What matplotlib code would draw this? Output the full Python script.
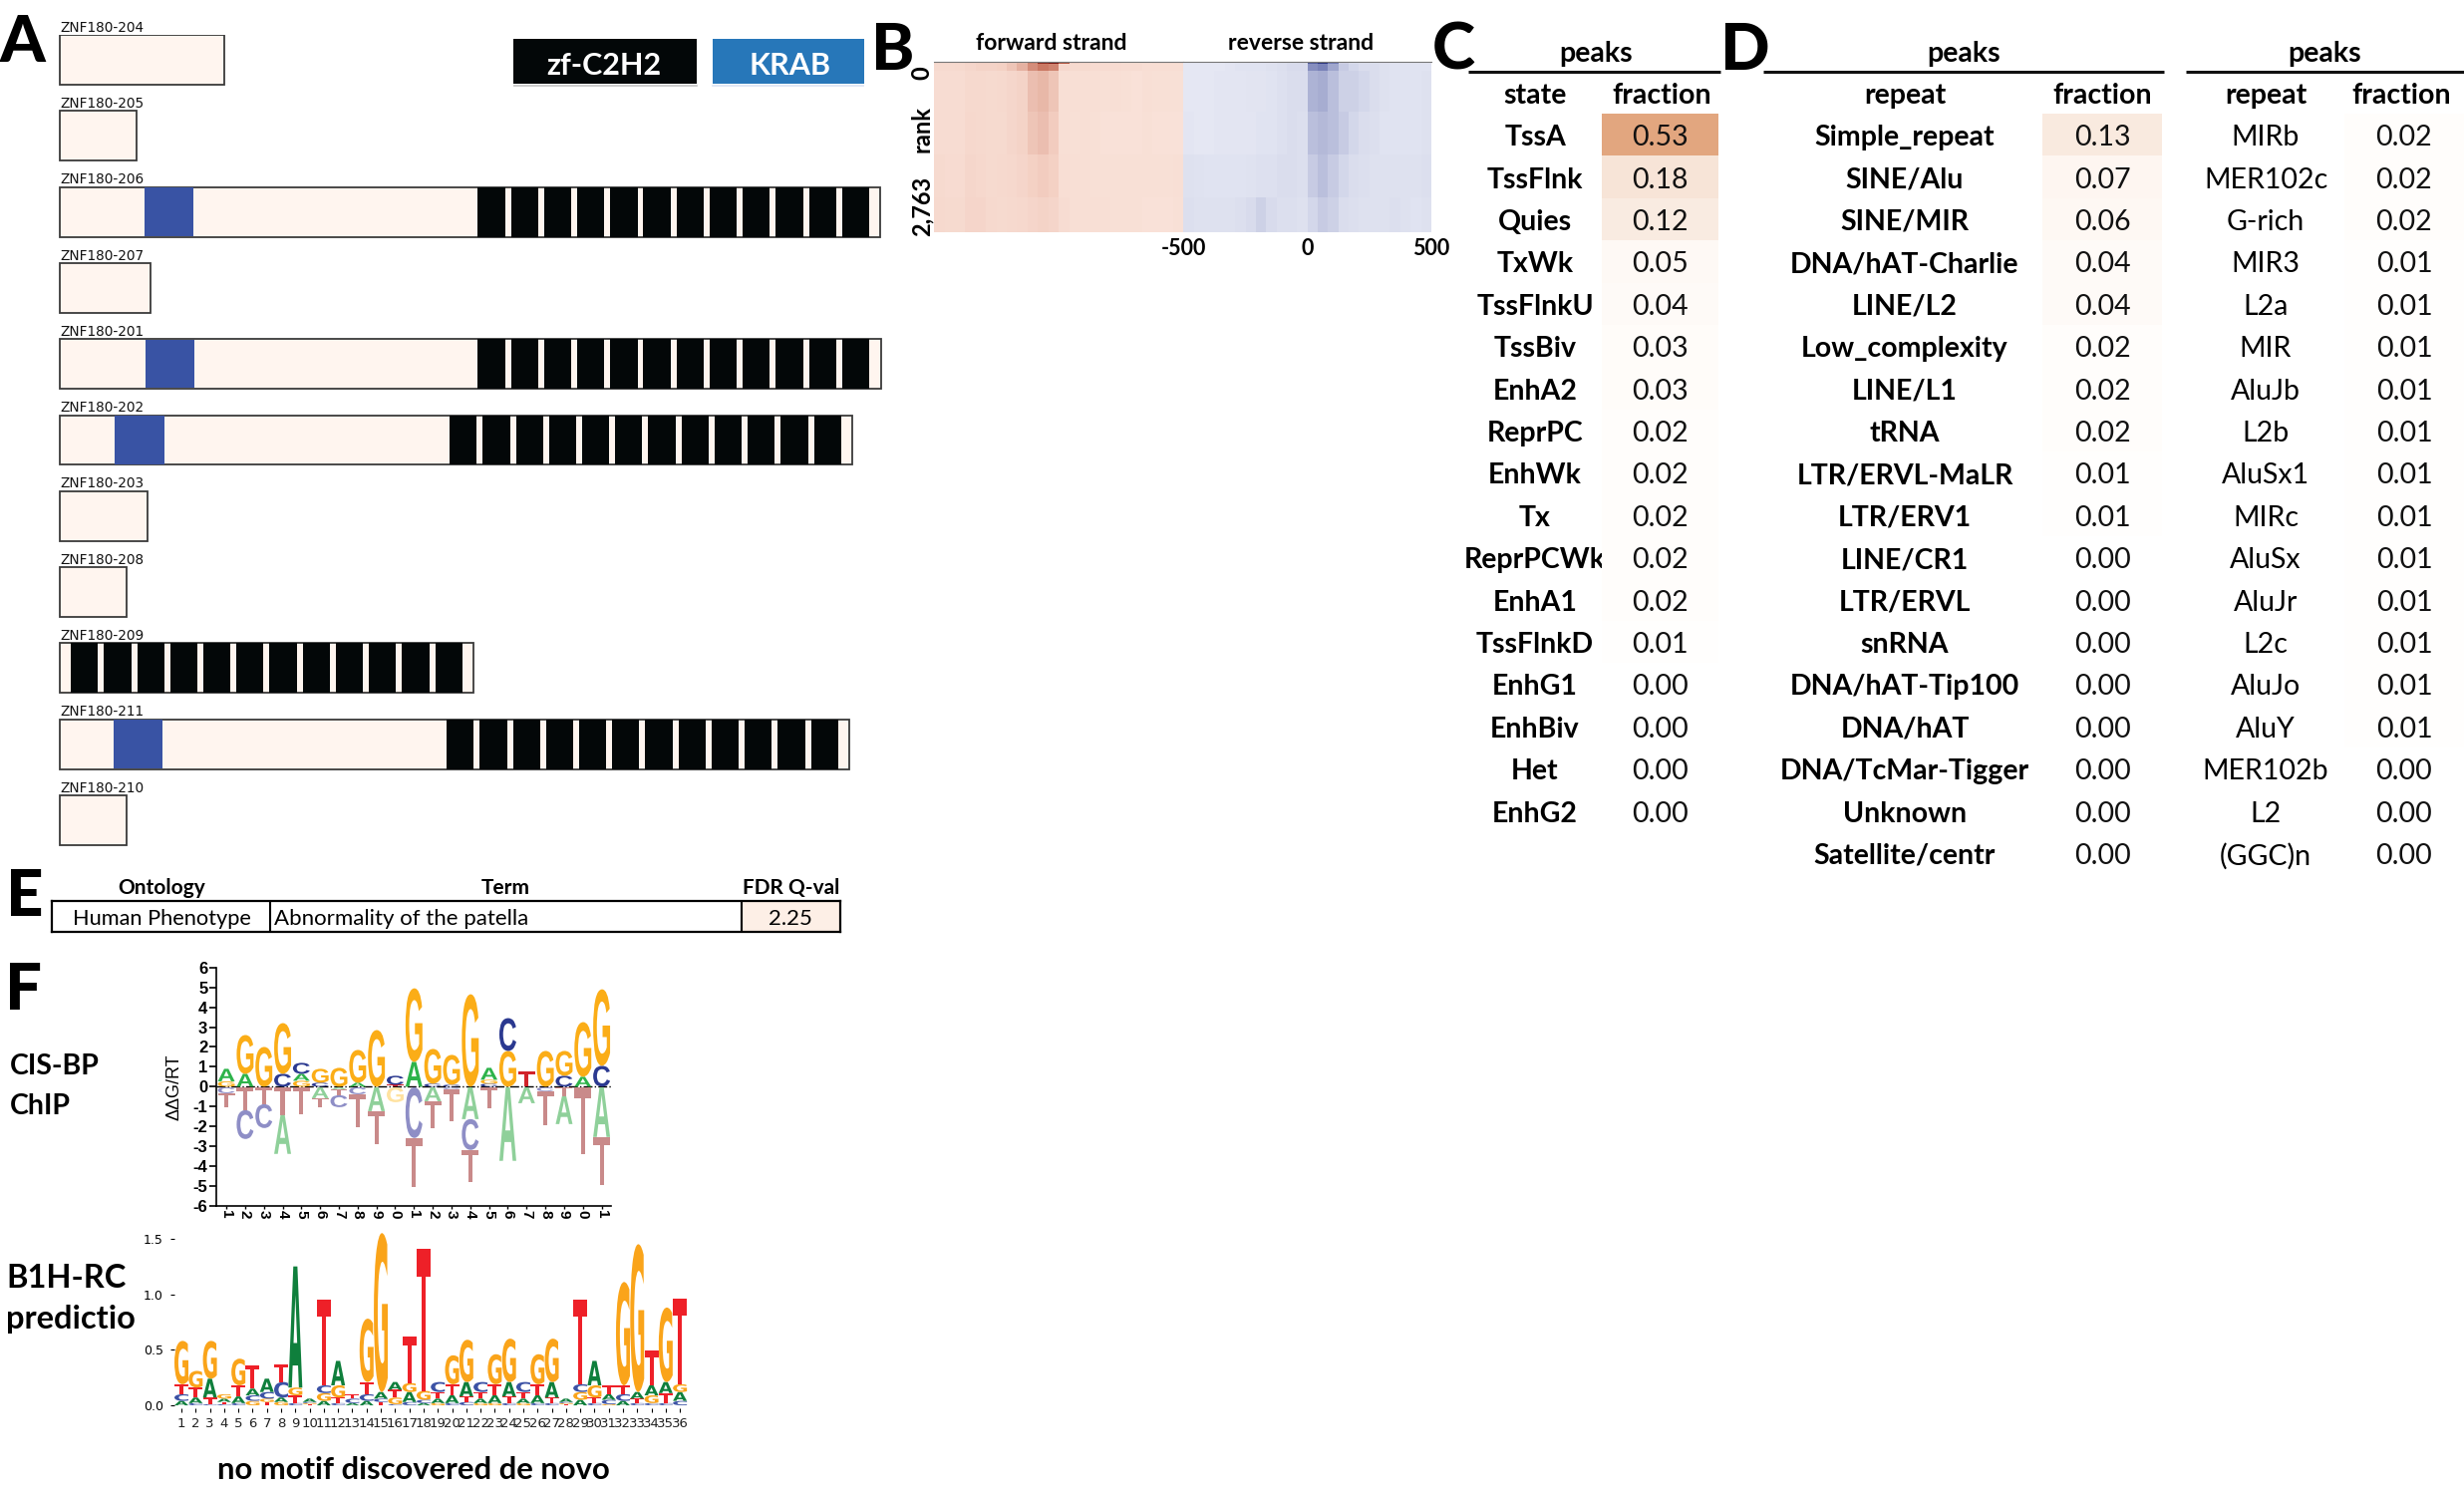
import numpy as np
import matplotlib
matplotlib.use('Agg')
import matplotlib.pyplot as plt
from matplotlib.colors import LinearSegmentedColormap, Normalize
from matplotlib.patheffects import AbstractPathEffect
from matplotlib.transforms import Affine2D, Bbox

W, H = 2472, 1497
FONT = 'Lato'

# panel A: protein isoforms, lengths on a common scale
isoforms = ['ZNF180-204', 'ZNF180-205', 'ZNF180-206', 'ZNF180-207', 'ZNF180-201', 'ZNF180-202',
            'ZNF180-203', 'ZNF180-208', 'ZNF180-209', 'ZNF180-211', 'ZNF180-210']
lengths = [165, 77, 823, 91, 824, 795, 87.5, 67, 415, 792, 67]
krab_start = [None, None, 84.7, None, 85.8, 55.4, None, None, None, 53.7, None]
krab_end = [None, None, 133.5, None, 135, 104.8, None, None, None, 102.5, None]
zf_start = [None, None, 419.3, None, 419.3, 391, None, None, 11, 388, None]
zf_offsets = [0, 33.2, 66.5, 99.7, 132.9, 166.1, 199.4, 232.6, 265.8, 299, 332.3, 365.5]
zf_width = 27.3

# panel B: coarse read of signal by rank (rows) and position (columns)
rank_edges = [0, 25, 150, 800, 1500, 2200, 2763]
pos_edges = [-500, -458, -417, -375, -333, -292, -250, -208, -167, -125, -83, -42, 0,
             42, 83, 125, 167, 208, 250, 292, 333, 375, 417, 458, 500]
forward = [
    [.25, .25, .25, .28, .30, .30, .30, .35, .40, .55, .90, 1.0, .70, .30, .25, .25, .22, .22, .20, .20, .20, .22, .22, .22],
    [.24, .24, .25, .27, .30, .30, .32, .36, .42, .52, .58, .55, .26, .24, .24, .23, .23, .23, .22, .22, .21, .21, .21, .21],
    [.22, .22, .22, .25, .25, .24, .25, .27, .30, .38, .40, .36, .20, .20, .20, .20, .19, .20, .19, .18, .20, .19, .19, .19],
    [.22, .22, .22, .26, .25, .24, .24, .27, .30, .36, .38, .34, .20, .19, .20, .19, .18, .18, .18, .18, .19, .18, .18, .18],
    [.24, .23, .23, .27, .26, .24, .25, .26, .28, .32, .34, .32, .21, .20, .20, .19, .19, .19, .19, .19, .19, .19, .19, .20],
    [.25, .24, .24, .28, .28, .25, .24, .25, .26, .28, .30, .28, .22, .20, .20, .20, .20, .19, .19, .19, .18, .18, .18, .19],
]
reverse = [
    [.18, .18, .18, .18, .20, .20, .22, .22, .22, .25, .28, .30, .80, 1.0, .65, .35, .28, .25, .24, .22, .20, .20, .20, .20],
    [.20, .20, .20, .20, .22, .24, .24, .24, .26, .28, .32, .32, .58, .62, .50, .38, .34, .30, .30, .26, .24, .24, .24, .24],
    [.20, .20, .20, .22, .22, .22, .23, .23, .24, .27, .30, .30, .46, .48, .42, .36, .36, .34, .30, .26, .24, .24, .24, .26],
    [.22, .20, .20, .22, .22, .22, .22, .24, .24, .27, .30, .28, .42, .44, .42, .38, .34, .30, .28, .24, .24, .24, .24, .26],
    [.26, .25, .24, .24, .24, .24, .25, .27, .27, .30, .30, .28, .38, .42, .38, .34, .30, .28, .26, .26, .26, .26, .26, .28],
    [.28, .26, .26, .26, .26, .28, .32, .36, .32, .28, .28, .26, .34, .38, .36, .30, .28, .26, .26, .26, .28, .26, .24, .26],
]

# panels C and D
states = ['TssA', 'TssFlnk', 'Quies', 'TxWk', 'TssFlnkU', 'TssBiv', 'EnhA2', 'ReprPC', 'EnhWk', 'Tx',
          'ReprPCWk', 'EnhA1', 'TssFlnkD', 'EnhG1', 'EnhBiv', 'Het', 'EnhG2']
state_frac = [0.53, 0.18, 0.12, 0.05, 0.04, 0.03, 0.03, 0.02, 0.02, 0.02, 0.02, 0.02, 0.01, 0.00, 0.00, 0.00, 0.00]
families = ['Simple_repeat', 'SINE/Alu', 'SINE/MIR', 'DNA/hAT-Charlie', 'LINE/L2', 'Low_complexity', 'LINE/L1',
            'tRNA', 'LTR/ERVL-MaLR', 'LTR/ERV1', 'LINE/CR1', 'LTR/ERVL', 'snRNA', 'DNA/hAT-Tip100', 'DNA/hAT',
            'DNA/TcMar-Tigger', 'Unknown', 'Satellite/centr']
family_frac = [0.13, 0.07, 0.06, 0.04, 0.04, 0.02, 0.02, 0.02, 0.01, 0.01, 0.00, 0.00, 0.00, 0.00, 0.00, 0.00, 0.00, 0.00]
repeats = ['MIRb', 'MER102c', 'G-rich', 'MIR3', 'L2a', 'MIR', 'AluJb', 'L2b', 'AluSx1', 'MIRc', 'AluSx', 'AluJr',
           'L2c', 'AluJo', 'AluY', 'MER102b', 'L2', '(GGC)n']
repeat_frac = [0.02, 0.02, 0.02, 0.01, 0.01, 0.01, 0.01, 0.01, 0.01, 0.01, 0.01, 0.01, 0.01, 0.01, 0.01, 0.00, 0.00, 0.00]

# panel F: letter stacks per position, from the zero line outwards
cisbp_up = [
    [('G', .27), ('A', .63)], [('A', .65), ('G', 1.95)], [('G', 2.0)], [('C', .65), ('G', 2.55)],
    [('G', .3), ('A', .35), ('C', .55)], [('C', .2), ('G', .7)], [('G', .95)], [('A', .2), ('G', 1.65)],
    [('G', 2.85)], [('T', .1), ('C', .45)], [('A', 1.25), ('G', 3.7)], [('C', .15), ('G', 1.75)],
    [('C', .1), ('G', 1.5)], [('G', 4.65)], [('C', .15), ('G', .2), ('A', .6)], [('G', 1.8), ('C', 1.65)],
    [('T', .75)], [('G', 1.8)], [('C', .55), ('G', 1.25)], [('A', .5), ('G', 2.75)], [('C', 1.05), ('G', 3.85)],
]
cisbp_down = [
    [('C', .3), ('T', .73)], [('T', 1.15), ('C', 1.45)], [('T', .85), ('C', 1.2)], [('T', 1.4), ('A', 1.95)],
    [('T', 1.35)], [('A', .55), ('T', .48)], [('A', .12), ('T', .28), ('C', .6)], [('C', .35), ('T', 1.65)],
    [('A', 1.2), ('T', 1.65)], [('G', .75)], [('C', 2.55), ('T', 2.45)], [('A', .7), ('T', 1.35)],
    [('C', .1), ('T', 1.6)], [('A', 1.6), ('C', 1.55), ('T', 1.6)], [('T', 1.05)], [('A', 3.7)],
    [('A', .8)], [('C', .2), ('T', 1.7)], [('T', .45), ('A', 1.4)], [('T', 3.35)], [('A', 2.5), ('T', 2.4)],
]
cisbp_ticks = ['1', '2', '3', '4', '5', '6', '7', '8', '9', '0', '1', '2', '3', '4', '5', '6', '7', '8', '9', '0', '1']
b1h_stacks = [
    [('A', .04), ('C', .06), ('T', .09), ('G', .39)], [('C', .02), ('A', .05), ('T', .09), ('G', .15)],
    [('C', .01), ('T', .06), ('A', .17), ('G', .34)], [('C', .01), ('T', .02), ('A', .03), ('G', .04)],
    [('C', .02), ('A', .06), ('T', .10), ('G', .24)], [('G', .04), ('C', .05), ('A', .06), ('T', .21)],
    [('T', .03), ('G', .03), ('C', .06), ('A', .12)], [('G', .03), ('A', .04), ('C', .14), ('T', .16)],
    [('C', .02), ('T', .07), ('G', .07), ('A', 1.09)], [('T', .01), ('G', .01), ('C', .01), ('A', .03)],
    [('A', .04), ('G', .07), ('C', .07), ('T', .77)], [('C', .02), ('T', .05), ('G', .11), ('A', .22)],
    [('A', .02), ('C', .04), ('T', .04)], [('A', .04), ('C', .06), ('T', .11), ('G', .57)],
    [('T', .03), ('C', .03), ('A', .06), ('G', 1.43)], [('C', .01), ('G', .06), ('T', .07), ('A', .07)],
    [('C', .03), ('A', .09), ('G', .08), ('T', .42)], [('A', .02), ('C', .03), ('G', .08), ('T', 1.28)],
    [('G', .02), ('A', .04), ('T', .06), ('C', .09)], [('C', .02), ('A', .07), ('T', .10), ('G', .26)],
    [('C', .03), ('T', .05), ('A', .13), ('G', .38)], [('G', .02), ('A', .04), ('T', .06), ('C', .09)],
    [('G', .02), ('A', .07), ('T', .10), ('G', .27)], [('C', .02), ('T', .06), ('A', .13), ('G', .39)],
    [('G', .02), ('A', .04), ('T', .06), ('C', .09)], [('C', .02), ('A', .07), ('T', .10), ('G', .27)],
    [('C', .02), ('T', .05), ('A', .14), ('G', .39)], [('T', .01), ('G', .01), ('C', .01), ('A', .03)],
    [('A', .05), ('G', .07), ('C', .07), ('T', .76)], [('C', .02), ('T', .05), ('G', .11), ('A', .22)],
    [('G', .01), ('C', .04), ('A', .05), ('T', .08)], [('A', .04), ('C', .06), ('T', .08), ('G', .93)],
    [('C', .02), ('T', .04), ('A', .06), ('G', 1.33)], [('C', .02), ('G', .07), ('A', .09), ('T', .31)],
    [('C', .02), ('T', .09), ('A', .10), ('G', .67)], [('C', .04), ('A', .08), ('G', .07), ('T', .77)],
]

cisbp_colors = {'A': '#2DB34A', 'C': '#2B3990', 'G': '#FBAD17', 'T': '#D1232A'}
cisbp_neg_colors = {'A': '#8FD09A', 'C': '#8E8EC6', 'G': '#FFE2A0', 'T': '#C98A8A'}
b1h_colors = {'A': '#0F7F3C', 'C': '#3C52A5', 'G': '#FAA41A', 'T': '#EE2028'}


class FitBox(AbstractPathEffect):
    # stretches a glyph so that it fills a box given in data coordinates
    def __init__(self, ax, x0, y0, x1, y1):
        super().__init__()
        self.ax = ax
        self.box = [(x0, y0), (x1, y1)]

    def draw_path(self, renderer, gc, tpath, affine, rgbFace=None):
        (a, b), (c, d) = self.ax.transData.transform(self.box)
        ext = tpath.get_extents()
        t = (Affine2D().translate(-ext.x0, -ext.y0)
             .scale((c - a) / ext.width, (d - b) / ext.height).translate(a, b))
        renderer.draw_path(gc, tpath, t, rgbFace)


fig = plt.figure(figsize=(W / 100, H / 100), dpi=100)


def px_axes(x0, y0, x1, y1):
    return fig.add_axes([x0 / W, 1 - y1 / H, (x1 - x0) / W, (y1 - y0) / H])


def letter(ax, ch, x, y0, y1, color, family, width=.9):
    ax.text(x, y0, ch, fontsize=6, color=color, family=family, weight='bold', ha='center', va='bottom',
            path_effects=[FitBox(ax, x - width / 2, y0, x + width / 2, y1)])


# page level text lives in an axes measured in pixels
bg = px_axes(0, 0, W, H)
bg.set_xlim(0, W)
bg.set_ylim(H, 0)
bg.axis('off')

for lab, x, y in [('A', 0, 62), ('B', 874, 70), ('C', 1437, 70), ('D', 1726, 70), ('E', 6, 919), ('F', 5, 1013)]:
    bg.text(x, y, lab, fontsize=47, family=FONT, weight='black', ha='left', va='baseline')

# A
ax = px_axes(58, 35, 890, 35 + 76.3 * 11)
ax.set_xlim(-2, 830)
ax.set_ylim(11, 0)
ax.axis('off')
for i, name in enumerate(isoforms):
    ax.barh(i, lengths[i], height=.655, align='edge', facecolor='#FFF5EF', edgecolor='#3a3a3a', linewidth=1.3)
    if krab_start[i] is not None:
        ax.barh(i + .01, krab_end[i] - krab_start[i], left=krab_start[i], height=.635, align='edge', color='#3953A4')
    if zf_start[i] is not None:
        for off in zf_offsets:
            ax.barh(i, zf_width, left=zf_start[i] + off, height=.655, align='edge', color='#030708')
    ax.text(0, i - .005, name, fontsize=9.8, color='#111111', ha='left', va='bottom', clip_on=False)

legend_ax = px_axes(515, 39, 867, 87)
legend_ax.set_xlim(515, 867)
legend_ax.set_ylim(87, 39)
legend_ax.axis('off')
legend_ax.barh(39, 183.6, left=515, height=45, align='edge', color='#030708')
legend_ax.barh(39, 152, left=715, height=45, align='edge', color='#2777B9')
legend_ax.plot([515, 698.6], [86, 86], color='#c4c4c4', lw=1.2)
legend_ax.plot([715, 867], [86, 86], color='#dbe3f3', lw=1.2)
legend_ax.text(606, 66, 'zf-C2H2', color='white', fontsize=22, family=FONT, weight='bold', ha='center', va='center')
legend_ax.text(792, 66, 'KRAB', color='white', fontsize=22, family=FONT, weight='bold', ha='center', va='center')

# B
red_map = LinearSegmentedColormap.from_list('fw', ['#FFF6F1', '#F3CFC2', '#BC5A42', '#7A1510'])
blue_map = LinearSegmentedColormap.from_list('rv', ['#FBFCFF', '#D6D9EB', '#6A74B0', '#2A3580'])
ax_fw = px_axes(937, 62, 1187.4, 233)
ax_rv = px_axes(1187.4, 62, 1436, 233)
ax_fw.pcolormesh(pos_edges, rank_edges, np.array(forward), cmap=red_map, vmin=0, vmax=1)
ax_rv.pcolormesh(pos_edges, rank_edges, np.array(reverse), cmap=blue_map, vmin=0, vmax=1)
for a in (ax_fw, ax_rv):
    a.set_ylim(2763, 0)
    for s in ['left', 'right', 'bottom']:
        a.spines[s].set_visible(False)
    a.spines['top'].set_color('#777777')
    a.spines['top'].set_linewidth(0.8)
ax_fw.set_xticks([])
ax_fw.set_yticks([])
ax_rv.set_yticks([])
ax_rv.set_xticks([-500, 0, 500])
ax_rv.set_xticklabels(['-500', '0', '500'], family=FONT, weight='bold', fontsize=15.5)
ax_rv.tick_params(axis='x', length=0, pad=4)
bg.text(925, 66, '0', rotation=90, fontsize=17, family=FONT, weight='bold', ha='center', va='top')
bg.text(925, 130, 'rank', rotation=90, fontsize=17, family=FONT, weight='bold', ha='center', va='center')
bg.text(925, 237, '2,763', rotation=90, fontsize=17, family=FONT, weight='bold', ha='center', va='bottom')
bg.text(1054.5, 43, 'forward strand', fontsize=16.5, family=FONT, weight='bold', ha='center', va='center')
bg.text(1305, 43, 'reverse strand', fontsize=16.5, family=FONT, weight='bold', ha='center', va='center')

# C and D
frac_map = LinearSegmentedColormap.from_list(
    'frac', [(0, '#FFFFFF'), (.02 / .53, '#FFFDFB'), (.05 / .53, '#FEF9F5'), (.07 / .53, '#FEF6F1'),
             (.12 / .53, '#F9EBE0'), (.18 / .53, '#F7E4D7'), (1, '#E2A67F')])
ROW_TOP, ROW_H = 114, 42.4


def table(rule, peak_x, name_x, frac_x, cell, head, names, fracs, name_weight):
    bg.plot(rule, [72, 72], color='#111111', lw=2.2, solid_capstyle='butt')
    bg.text(peak_x, 54, 'peaks', fontsize=20.5, family=FONT, weight='bold', ha='center', va='center')
    bg.text(name_x, 96, head, fontsize=20.5, family=FONT, weight='bold', ha='center', va='center')
    bg.text(frac_x, 96, 'fraction', fontsize=20.5, family=FONT, weight='bold', ha='center', va='center')
    n = len(names)
    for i, nm in enumerate(names):
        bg.text(name_x, ROW_TOP + (i + .5) * ROW_H + 3, nm, fontsize=20.5, family=FONT, weight=name_weight,
                ha='center', va='center')
    a = px_axes(cell[0], ROW_TOP, cell[1], ROW_TOP + n * ROW_H)
    a.pcolormesh([0, 1], np.arange(n + 1), np.array(fracs).reshape(-1, 1), cmap=frac_map,
                 norm=Normalize(0, .53))
    a.set_ylim(n, 0)
    a.axis('off')
    for i, v in enumerate(fracs):
        a.text(.5, i + .57, f'{v:.2f}', fontsize=20.5, family=FONT, color='#111111', ha='center', va='center')


table([1473, 1726], 1601, 1540, 1667, [1606.6, 1724], 'state', states, state_frac, 'bold')
table([1769, 2171], 1970, 1911, 2109, [2049, 2169], 'repeat', families, family_frac, 'bold')
table([2192.5, 2472], 2332, 2273, 2409, [2352, 2472], 'repeat', repeats, repeat_frac, 'normal')

# E
ax_e = px_axes(52, 904, 843, 935)
ax_e.set_xlim(52, 843)
ax_e.set_ylim(0, 1)
ax_e.set_xticks([])
ax_e.set_yticks([])
ax_e.barh(0, 99.4, left=743.6, height=1, align='edge', color='#FDEFE6')
ax_e.axvline(270.5, color='black', lw=1.5)
ax_e.axvline(743.6, color='black', lw=1.5)
for s in ax_e.spines.values():
    s.set_linewidth(1.6)
for x, txt in [(162, 'Ontology'), (507, 'Term'), (794, 'FDR Q-val')]:
    bg.text(x, 891, txt, fontsize=15, family=FONT, weight='bold', ha='center', va='center')
ax_e.text(162, .42, 'Human Phenotype', fontsize=15.7, family=FONT, ha='center', va='center')
ax_e.text(275, .42, 'Abnormality of the patella', fontsize=16, family=FONT, ha='left', va='center')
ax_e.text(793, .42, '2.25', fontsize=16, family=FONT, ha='center', va='center')

# F labels
for x, y, txt, size in [(10, 1070, 'CIS-BP', 20.5), (10, 1110, 'ChIP', 20.5), (6, 1283, 'B1H-RC', 23.5)]:
    bg.text(x, y, txt, fontsize=size, family=FONT, weight='bold', ha='left', va='center')
pred = bg.text(6, 1324, 'prediction', fontsize=23.5, family=FONT, weight='bold', ha='left', va='center', clip_on=True)
pred.set_clip_box(Bbox.from_extents(0, H - 1350, 135, H - 1300))
bg.text(415, 1475, 'no motif discovered de novo', fontsize=22.3, family=FONT, weight='bold', ha='center', va='center')

# F top logo
ax1 = px_axes(216.7, 970.7, 613, 1210)
ax1.set_xlim(0.45, 21.5)
ax1.set_ylim(-6, 6)
for i in range(len(cisbp_up)):
    y = 0
    for ch, h in cisbp_up[i]:
        letter(ax1, ch, i + 1, y, y + h, cisbp_colors[ch], 'Liberation Sans')
        y += h
    y = -.03
    for ch, h in cisbp_down[i]:
        letter(ax1, ch, i + 1, y - h, y, cisbp_neg_colors[ch], 'Liberation Sans')
        y -= h
ax1.axhline(0, color='black', lw=1, ls='-.')
ax1.spines['top'].set_visible(False)
ax1.spines['right'].set_visible(False)
ax1.spines['left'].set_linewidth(1.2)
ax1.spines['bottom'].set_linewidth(1.2)
ax1.set_yticks(np.arange(-6, 7))
ax1.set_yticklabels([str(t) for t in range(-6, 7)], family='Liberation Sans', weight='bold', fontsize=12)
ax1.set_xticks(np.arange(1, 22))
ax1.set_xticklabels(cisbp_ticks, rotation=-90, family='Liberation Sans', weight='bold', fontsize=11)
ax1.tick_params(axis='y', length=5, width=1.2, pad=1)
ax1.tick_params(axis='x', length=2, width=1, pad=1)
ax1.set_ylabel('\u0394\u0394G/RT', family='Liberation Sans', fontsize=13, labelpad=7)

# F bottom logo
ax2 = px_axes(175, 1235, 695, 1413.4)
ax2.set_xlim(0.51, 36.9)
ax2.set_ylim(-.03, 1.57)
for i, stack in enumerate(b1h_stacks):
    y = 0
    for ch, h in stack:
        letter(ax2, ch, i + 1, y, y + h, b1h_colors[ch], 'DejaVu Sans', width=.98)
        y += h
for s in ax2.spines.values():
    s.set_visible(False)
ax2.set_yticks([0, .5, 1, 1.5])
ax2.set_yticklabels(['0.0', '0.5', '1.0', '1.5'], fontsize=9)
ax2.set_xticks(np.arange(1, 37))
ax2.set_xticklabels([str(n) for n in range(1, 37)], fontsize=9.5, color='#222222')
ax2.tick_params(axis='both', length=3, width=.8, pad=5)
ax2.tick_params(axis='x', pad=3)
ax2.patch.set_visible(False)

fig.savefig('out.png', dpi=100, facecolor='white')
